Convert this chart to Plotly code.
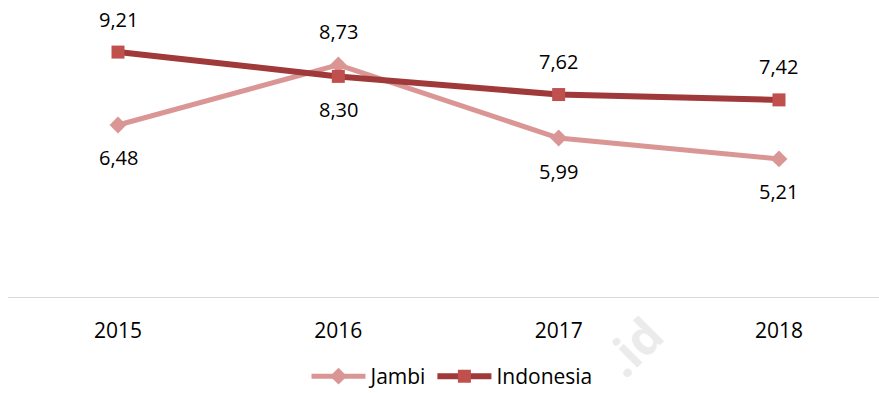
import plotly.graph_objects as go

years = ["2015", "2016", "2017", "2018"]
jambi = [6.48, 8.73, 5.99, 5.21]
indonesia = [9.21, 8.30, 7.62, 7.42]

# label placement per point: +1 above the marker, -1 below
jambi_side = [-1, 1, -1, -1]
indonesia_side = [1, -1, 1, 1]

FONT = "Open Sans"
JAMBI_COLOR = "#d99694"
INDO_LINE = "#a0393a"
INDO_MARKER = "#c0504d"

PLOT_H = 298

fig = go.Figure()
fig.add_trace(go.Scatter(
    x=list(range(len(years))), y=jambi, name="Jambi", mode="lines+markers",
    line=dict(color=JAMBI_COLOR, width=5),
    marker=dict(symbol="diamond", size=13, color=JAMBI_COLOR),
))
fig.add_trace(go.Scatter(
    x=list(range(len(years))), y=indonesia, name="Indonesia", mode="lines+markers",
    line=dict(color=INDO_LINE, width=6),
    marker=dict(symbol="square", size=13, color=INDO_MARKER),
))

def fmt(v):
    return f"{v:.2f}".replace(".", ",")

annotations = []
for series, sides in ((jambi, jambi_side), (indonesia, indonesia_side)):
    for i, (v, s) in enumerate(zip(series, sides)):
        annotations.append(dict(
            x=i, y=v, xref="x", yref="y", text=fmt(v), showarrow=False,
            yshift=33 * s, font=dict(family=FONT, size=20, color="#000000"),
        ))

# faint site watermark
annotations.append(dict(
    x=632 / 879, y=(PLOT_H - 346) / PLOT_H, xref="paper", yref="paper",
    xanchor="center", yanchor="middle",
    text="<b>.id</b>", showarrow=False, textangle=-45,
    font=dict(family=FONT, size=48, color="#ebebeb"),
))

fig.update_layout(
    width=879, height=393,
    margin=dict(l=0, r=0, t=0, b=393 - PLOT_H, autoexpand=False),
    paper_bgcolor="white", plot_bgcolor="white",
    xaxis=dict(
        range=[-118 / 220.33, (879 - 118) / 220.33],
        tickmode="array", tickvals=list(range(len(years))), ticktext=years,
        showgrid=False, zeroline=False, showline=False, ticks="",
        ticklabelstandoff=18,
        tickfont=dict(family=FONT, size=21, color="#000000"),
    ),
    yaxis=dict(
        range=[0, PLOT_H / 26.7], showgrid=False, zeroline=False,
        showline=False, showticklabels=False, ticks="",
    ),
    shapes=[dict(
        type="line", xref="x", yref="y", x0=-0.5, x1=3.5, y0=0, y1=0,
        line=dict(color="#d9d9d9", width=2), layer="below",
    )],
    showlegend=True,
    legend=dict(
        orientation="h", x=452 / 879, xanchor="center",
        y=(PLOT_H - 397) / PLOT_H, yanchor="bottom",
        itemwidth=54, font=dict(family=FONT, size=21, color="#000000"),
        bgcolor="rgba(0,0,0,0)",
    ),
    annotations=annotations,
)

fig.write_html("out.html")
